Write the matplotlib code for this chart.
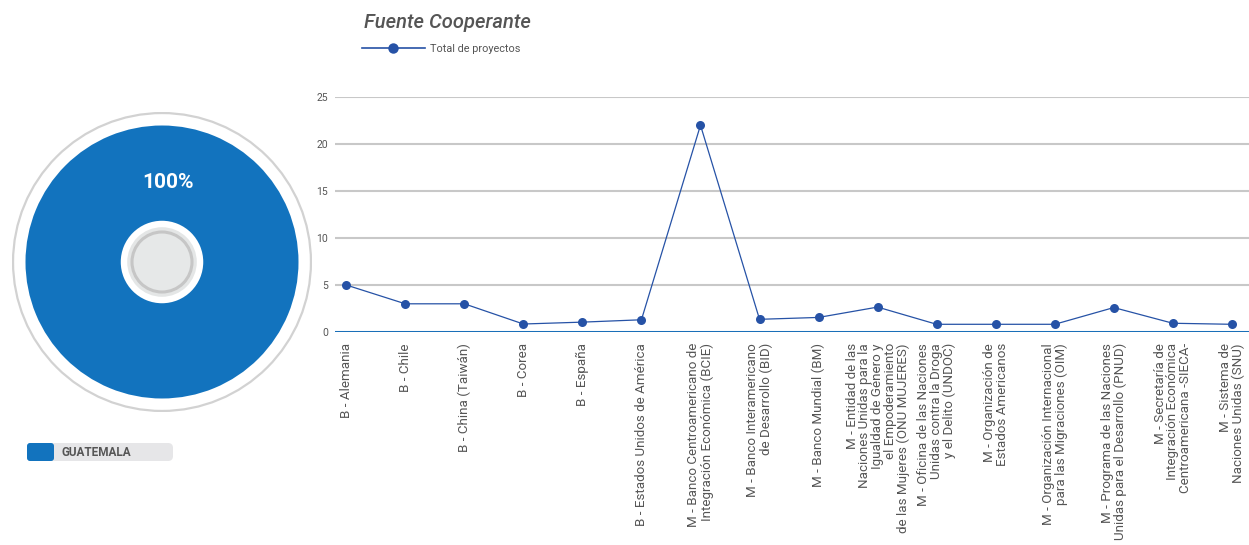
import matplotlib.pyplot as plt
import matplotlib.patches as mpatches
from matplotlib.lines import Line2D
import numpy as np

plt.rcParams['font.family'] = ['Roboto', 'DejaVu Sans']

# Donut data
countries = ["GUATEMALA"]
country_share = [100]

# Line chart data
sources = [
    "B - Alemania",
    "B - Chile",
    "B - China (Taiwán)",
    "B - Corea",
    "B - España",
    "B - Estados Unidos de América",
    "M - Banco Centroamericano de\nIntegración Económica (BCIE)",
    "M - Banco Interamericano\nde Desarrollo (BID)",
    "M - Banco Mundial (BM)",
    "M - Entidad de las\nNaciones Unidas para la\nIgualdad de Género y\nel Empoderamiento\nde las Mujeres (ONU MUJERES)",
    "M - Oficina de las Naciones\nUnidas contra la Droga\ny el Delito (UNDOC)",
    "M - Organización de\nEstados Americanos",
    "M - Organización Internacional\npara las Migraciones (OIM)",
    "M - Programa de las Naciones\nUnidas para el Desarrollo (PNUD)",
    "M - Secretaría de\nIntegración Económica\nCentroamericana -SIECA-",
    "M - Sistema de\nNaciones Unidas (SNU)",
]
total_projects = [5, 3, 3, 0.85, 1.05, 1.3, 22, 1.35, 1.55, 2.65, 0.82, 0.82, 0.82, 2.6, 0.93, 0.82]
y_ticks = [0, 5, 10, 15, 20, 25]

BLUE = '#1273be'
LINE_BLUE = '#2652a6'
GREY_TXT = '#555555'

W, H = 1249, 545
fig = plt.figure(figsize=(W / 100, H / 100), dpi=100)


def px_axes(x0, y0, x1, y1):
    # pixel box (top-left origin) -> figure axes
    return fig.add_axes([x0 / W, 1 - y1 / H, (x1 - x0) / W, (y1 - y0) / H])


# ---- donut ----
cx, cy, R = 162, 262, 150
dax = px_axes(cx - R, cy - R, cx + R, cy + R)
wedges, texts, autotexts = dax.pie(
    country_share, colors=[BLUE], radius=0.91, startangle=-90,
    autopct='%d%%', pctdistance=0.58,
    wedgeprops=dict(width=0.635, linewidth=0),
    textprops=dict(color='white', fontsize=15, fontweight='bold'))
autotexts[0].set_x(0.04)
dax.add_patch(mpatches.Circle((0, 0), 0.993, fill=False, edgecolor='#d2d2d2', linewidth=1.6))
dax.add_patch(mpatches.Circle((0, 0), 0.232, facecolor='#e4e6e6', edgecolor='none'))
dax.add_patch(mpatches.Circle((0, 0), 0.2, facecolor='#e6e8e8', edgecolor='#c6c6c6', linewidth=2.2))
dax.set_xlim(-1, 1)
dax.set_ylim(-1, 1)
dax.set_aspect('equal')
dax.axis('off')

# legend pill for donut
lax = px_axes(0, 430, 200, 470)
lax.set_xlim(0, 200)
lax.set_ylim(470, 430)
lax.axis('off')
lax.add_patch(mpatches.FancyBboxPatch((30, 443), 143, 18, boxstyle='round,pad=0,rounding_size=5',
                                      facecolor='#e6e6e8', edgecolor='none'))
lax.add_patch(mpatches.FancyBboxPatch((27, 443), 27, 18, boxstyle='round,pad=0,rounding_size=3',
                                      facecolor=BLUE, edgecolor='none'))
lax.text(61, 452.5, countries[0], color=GREY_TXT, fontsize=8.5, fontweight='bold', va='center', ha='left')

# ---- line chart ----
ax = px_axes(335, 97, 1249, 332)
x = np.arange(len(sources))
ax.plot(x, total_projects, color=LINE_BLUE, linewidth=0.9, marker='o', markersize=6.5,
        markeredgewidth=0, label='Total de proyectos', zorder=3)
ax.set_ylim(0, 25)
ax.set_xlim(-0.19, len(sources) - 1 + 0.29)
ax.set_yticks(y_ticks)
for t in y_ticks[1:]:
    ax.axhline(t, color='#c8c8c8', linewidth=1.5, zorder=1)
ax.axhline(0, color='#1a6fb8', linewidth=2.2, zorder=2)
ax.set_xticks(x)
ax.set_xticklabels(sources, rotation=90, ha='center', va='top', multialignment='right',
                   fontsize=9.6, color=GREY_TXT, linespacing=0.97)
ax.tick_params(axis='x', length=0, pad=8)
ax.tick_params(axis='y', length=0, pad=5, labelsize=7.5, labelcolor=GREY_TXT)
for s in ax.spines.values():
    s.set_visible(False)

fig.text(364 / W, 1 - 22 / H, 'Fuente Cooperante', fontsize=14.5, fontstyle='italic',
         fontweight='medium', color=GREY_TXT, va='center', ha='left')
fig.legend(handles=[Line2D([], [], color=LINE_BLUE, linewidth=1.2, marker='o', markersize=7.5,
                           markeredgewidth=0)],
           labels=['Total de proyectos'], loc='center left',
           bbox_to_anchor=(362 / W, 1 - 49 / H), frameon=False, fontsize=7.8,
           labelcolor=GREY_TXT, handlelength=5.8, handletextpad=0.5, borderpad=0, borderaxespad=0)

fig.savefig('out.png', dpi=100)
